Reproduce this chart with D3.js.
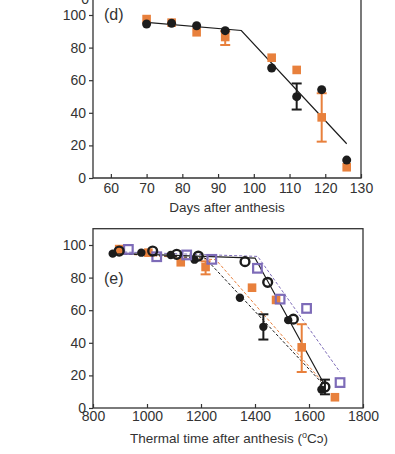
<!DOCTYPE html>
<html><head><meta charset="utf-8">
<script src="https://cdn.jsdelivr.net/npm/d3@7"></script>
<style>body{margin:0;background:#fff;} svg{display:block;font-family:"Liberation Sans",Arial,sans-serif;}</style>
</head><body>
<svg id="c" width="395" height="454"></svg>
<script>
// ---------- Panel (d) data ----------
const daysD = [70, 77, 84, 92, 105, 112, 119, 126];
const blackD = [94.5, 94.9, 93.4, 90.4, 67.5, 49.9, 54.2, 11.0];
const orangeD = [97.5, 95.3, 89.4, 86.5, 73.8, 66.3, 37.2, 6.6];
const errBlackD = [{x:112, lo:42, hi:58}];
const errOrangeD = [{x:92, lo:81.6, hi:90}, {x:119, lo:22.3, hi:52}];
const fitD = [{x:70, y:95.5}, {x:96.5, y:90.5}, {x:126, y:21}];
const xTicksD = [60, 70, 80, 90, 100, 110, 120, 130];
const yTicks = [0, 20, 40, 60, 80, 100];

// ---------- Panel (e) data ----------
const ttBlack = [873, 979, 1088, 1176, 1344, 1431, 1523, 1646];
const vBlack = [94.7, 95.3, 93.9, 91.0, 67.6, 49.8, 53.9, 11.3];
const ttOrange = [897, 1005, 1125, 1217, 1389, 1478, 1573, 1696];
const vOrange = [97.5, 95.3, 89.4, 86.5, 73.8, 66.3, 37.2, 6.6];
const ttOpen = [897, 1021, 1110, 1190, 1363, 1447, 1542, 1659];
const vOpen = [96.3, 96.3, 94.3, 93.2, 89.8, 77.1, 54.5, 12.9];
const ttPurple = [931, 1036, 1147, 1240, 1409, 1493, 1591, 1715];
const vPurple = [97.3, 92.8, 93.9, 91.2, 85.7, 66.8, 61.1, 15.6];
const errE = [
  {x:1431, lo:42, hi:57.5, c:"black"},
  {x:1573, lo:22.1, hi:51.4, c:"orange"},
  {x:1217, lo:82, hi:90, c:"orange"},
  {x:1659, lo:8.4, hi:17.4, c:"black"}
];
const fitBlackDash = [{x:860,y:95},{x:1215,y:92},{x:1650,y:15}];
const fitOrangeDash = [{x:860,y:95},{x:1255,y:91},{x:1650,y:16}];
const fitPurpleDash = [{x:860,y:96},{x:1410,y:93},{x:1715,y:22}];
const fitBlackSolid = [{x:860,y:95},{x:1400,y:92},{x:1655,y:15}];
const xTicksE = [800, 1000, 1200, 1400, 1600, 1800];

const COL = {black:"#1c1c1c", orange:"#e8803c", purple:"#7d6bb8", axis:"#333"};

const svg = d3.select("#c");

function styleAxis(g){
  g.selectAll("path").attr("stroke", COL.axis).attr("stroke-width", 1.3);
  g.selectAll("line").attr("stroke", COL.axis).attr("stroke-width", 1.2);
  g.selectAll("text").attr("fill", "#333").style("font-size", "14px")
    .style("font-family", "'Liberation Sans', Arial, sans-serif");
}

function drawErr(g, x, y, d, color){
  const cw = 5;
  g.append("line").attr("x1", x(d.x)).attr("x2", x(d.x)).attr("y1", y(d.lo)).attr("y2", y(d.hi))
    .attr("stroke", color).attr("stroke-width", 2);
  [d.lo, d.hi].forEach(v => g.append("line").attr("x1", x(d.x)-cw).attr("x2", x(d.x)+cw)
    .attr("y1", y(v)).attr("y2", y(v)).attr("stroke", color).attr("stroke-width", 2));
}

// ---------- Panel (d) ----------
{
  const x = d3.scaleLinear().domain([55, 130]).range([93, 361]);
  const y = d3.scaleLinear().domain([0, 100]).range([178, 15]);
  const g = svg.append("g");
  g.append("path").attr("d", `M${x(55)},${y(112)}V${y(0)}H${x(130)}V${y(112)}`)
    .attr("fill", "none").attr("stroke", COL.axis).attr("stroke-width", 1.3);
  const ya = g.append("g").attr("transform", `translate(${x(55)},0)`)
    .call(d3.axisLeft(y).tickValues(yTicks).tickSize(4).tickSizeOuter(0).tickPadding(3));
  ya.select(".domain").remove();
  styleAxis(ya);
  const xa = g.append("g").attr("transform", `translate(0,${y(0)})`)
    .call(d3.axisBottom(x).tickValues(xTicksD).tickSize(-4).tickSizeOuter(0).tickPadding(5)
      .tickFormat(d3.format("d")));
  xa.select(".domain").remove();
  styleAxis(xa);
  // stray "0" label belonging to the panel above
  g.append("text").attr("x", 89).attr("y", 3.5).attr("text-anchor", "end")
    .attr("fill", "#333").style("font-size", "14px").text("0");
  g.append("text").attr("x", 104).attr("y", 20).attr("fill", "#333").style("font-size", "16px").text("(d)");
  g.append("text").attr("x", 227).attr("y", 212).attr("text-anchor", "middle")
    .attr("fill", "#333").style("font-size", "13.5px").text("Days after anthesis");

  g.append("path").datum(fitD)
    .attr("d", d3.line().x(d => x(d.x)).y(d => y(d.y)))
    .attr("fill", "none").attr("stroke", COL.black).attr("stroke-width", 1.2);

  errOrangeD.forEach(d => drawErr(g, x, y, d, COL.orange));
  g.selectAll(".sqD").data(daysD).enter().append("rect")
    .attr("x", (d) => x(d) - 4.3).attr("y", (d, i) => y(orangeD[i]) - 4.3)
    .attr("width", 8.6).attr("height", 8.6).attr("fill", COL.orange);
  errBlackD.forEach(d => drawErr(g, x, y, d, COL.black));
  g.selectAll(".ciD").data(daysD).enter().append("circle")
    .attr("cx", d => x(d)).attr("cy", (d, i) => y(blackD[i])).attr("r", 4.5).attr("fill", COL.black);
}

// ---------- Panel (e) ----------
{
  const x = d3.scaleLinear().domain([800, 1800]).range([93, 363]);
  const y = d3.scaleLinear().domain([0, 100]).range([408, 245]);
  const g = svg.append("g");
  g.append("rect").attr("x", x(800)).attr("y", y(110)).attr("width", x(1800) - x(800))
    .attr("height", y(0) - y(110)).attr("fill", "none").attr("stroke", COL.axis).attr("stroke-width", 1.3);
  const ya = g.append("g").attr("transform", `translate(${x(800)},0)`)
    .call(d3.axisLeft(y).tickValues(yTicks).tickSize(4).tickSizeOuter(0).tickPadding(3));
  ya.select(".domain").remove();
  styleAxis(ya);
  const xa = g.append("g").attr("transform", `translate(0,${y(0)})`)
    .call(d3.axisBottom(x).tickValues(xTicksE).tickSize(-4).tickSizeOuter(0).tickPadding(3)
      .tickFormat(d3.format("d")));
  xa.select(".domain").remove();
  styleAxis(xa);
  g.append("text").attr("x", 104).attr("y", 284).attr("fill", "#333").style("font-size", "16px").text("(e)");
  const t = g.append("text").attr("x", 229).attr("y", 443).attr("text-anchor", "middle")
    .attr("fill", "#333").style("font-size", "13.5px");
  t.append("tspan").text("Thermal time after anthesis (");
  t.append("tspan").attr("dy", -5).style("font-size", "9px").text("o");
  t.append("tspan").attr("dy", 5).text("C\u0254)");

  const line = d3.line().x(d => x(d.x)).y(d => y(d.y));
  g.append("path").datum(fitPurpleDash).attr("d", line).attr("fill", "none")
    .attr("stroke", COL.purple).attr("stroke-width", 1).attr("stroke-dasharray", "3,2");
  g.append("path").datum(fitOrangeDash).attr("d", line).attr("fill", "none")
    .attr("stroke", COL.orange).attr("stroke-width", 1).attr("stroke-dasharray", "3,2");
  g.append("path").datum(fitBlackDash).attr("d", line).attr("fill", "none")
    .attr("stroke", COL.black).attr("stroke-width", 1).attr("stroke-dasharray", "3,2");
  g.append("path").datum(fitBlackSolid).attr("d", line).attr("fill", "none")
    .attr("stroke", COL.black).attr("stroke-width", 1.2);

  errE.filter(d => d.c === "orange").forEach(d => drawErr(g, x, y, d, COL.orange));
  g.selectAll(".sqE").data(ttOrange).enter().append("rect")
    .attr("x", d => x(d) - 4.3).attr("y", (d, i) => y(vOrange[i]) - 4.3)
    .attr("width", 8.6).attr("height", 8.6).attr("fill", COL.orange);
  errE.filter(d => d.c === "black").forEach(d => drawErr(g, x, y, d, COL.black));
  g.selectAll(".ciE").data(ttBlack).enter().append("circle")
    .attr("cx", d => x(d)).attr("cy", (d, i) => y(vBlack[i])).attr("r", 4.2).attr("fill", COL.black);
  g.selectAll(".psE").data(ttPurple).enter().append("rect")
    .attr("x", d => x(d) - 4.3).attr("y", (d, i) => y(vPurple[i]) - 4.3)
    .attr("width", 8.6).attr("height", 8.6).attr("fill", "none")
    .attr("stroke", COL.purple).attr("stroke-width", 2.2);
  g.selectAll(".ocE").data(ttOpen).enter().append("circle")
    .attr("cx", d => x(d)).attr("cy", (d, i) => y(vOpen[i])).attr("r", 4.4).attr("fill", "none")
    .attr("stroke", COL.black).attr("stroke-width", 2.4);
}
</script>
</body></html>
